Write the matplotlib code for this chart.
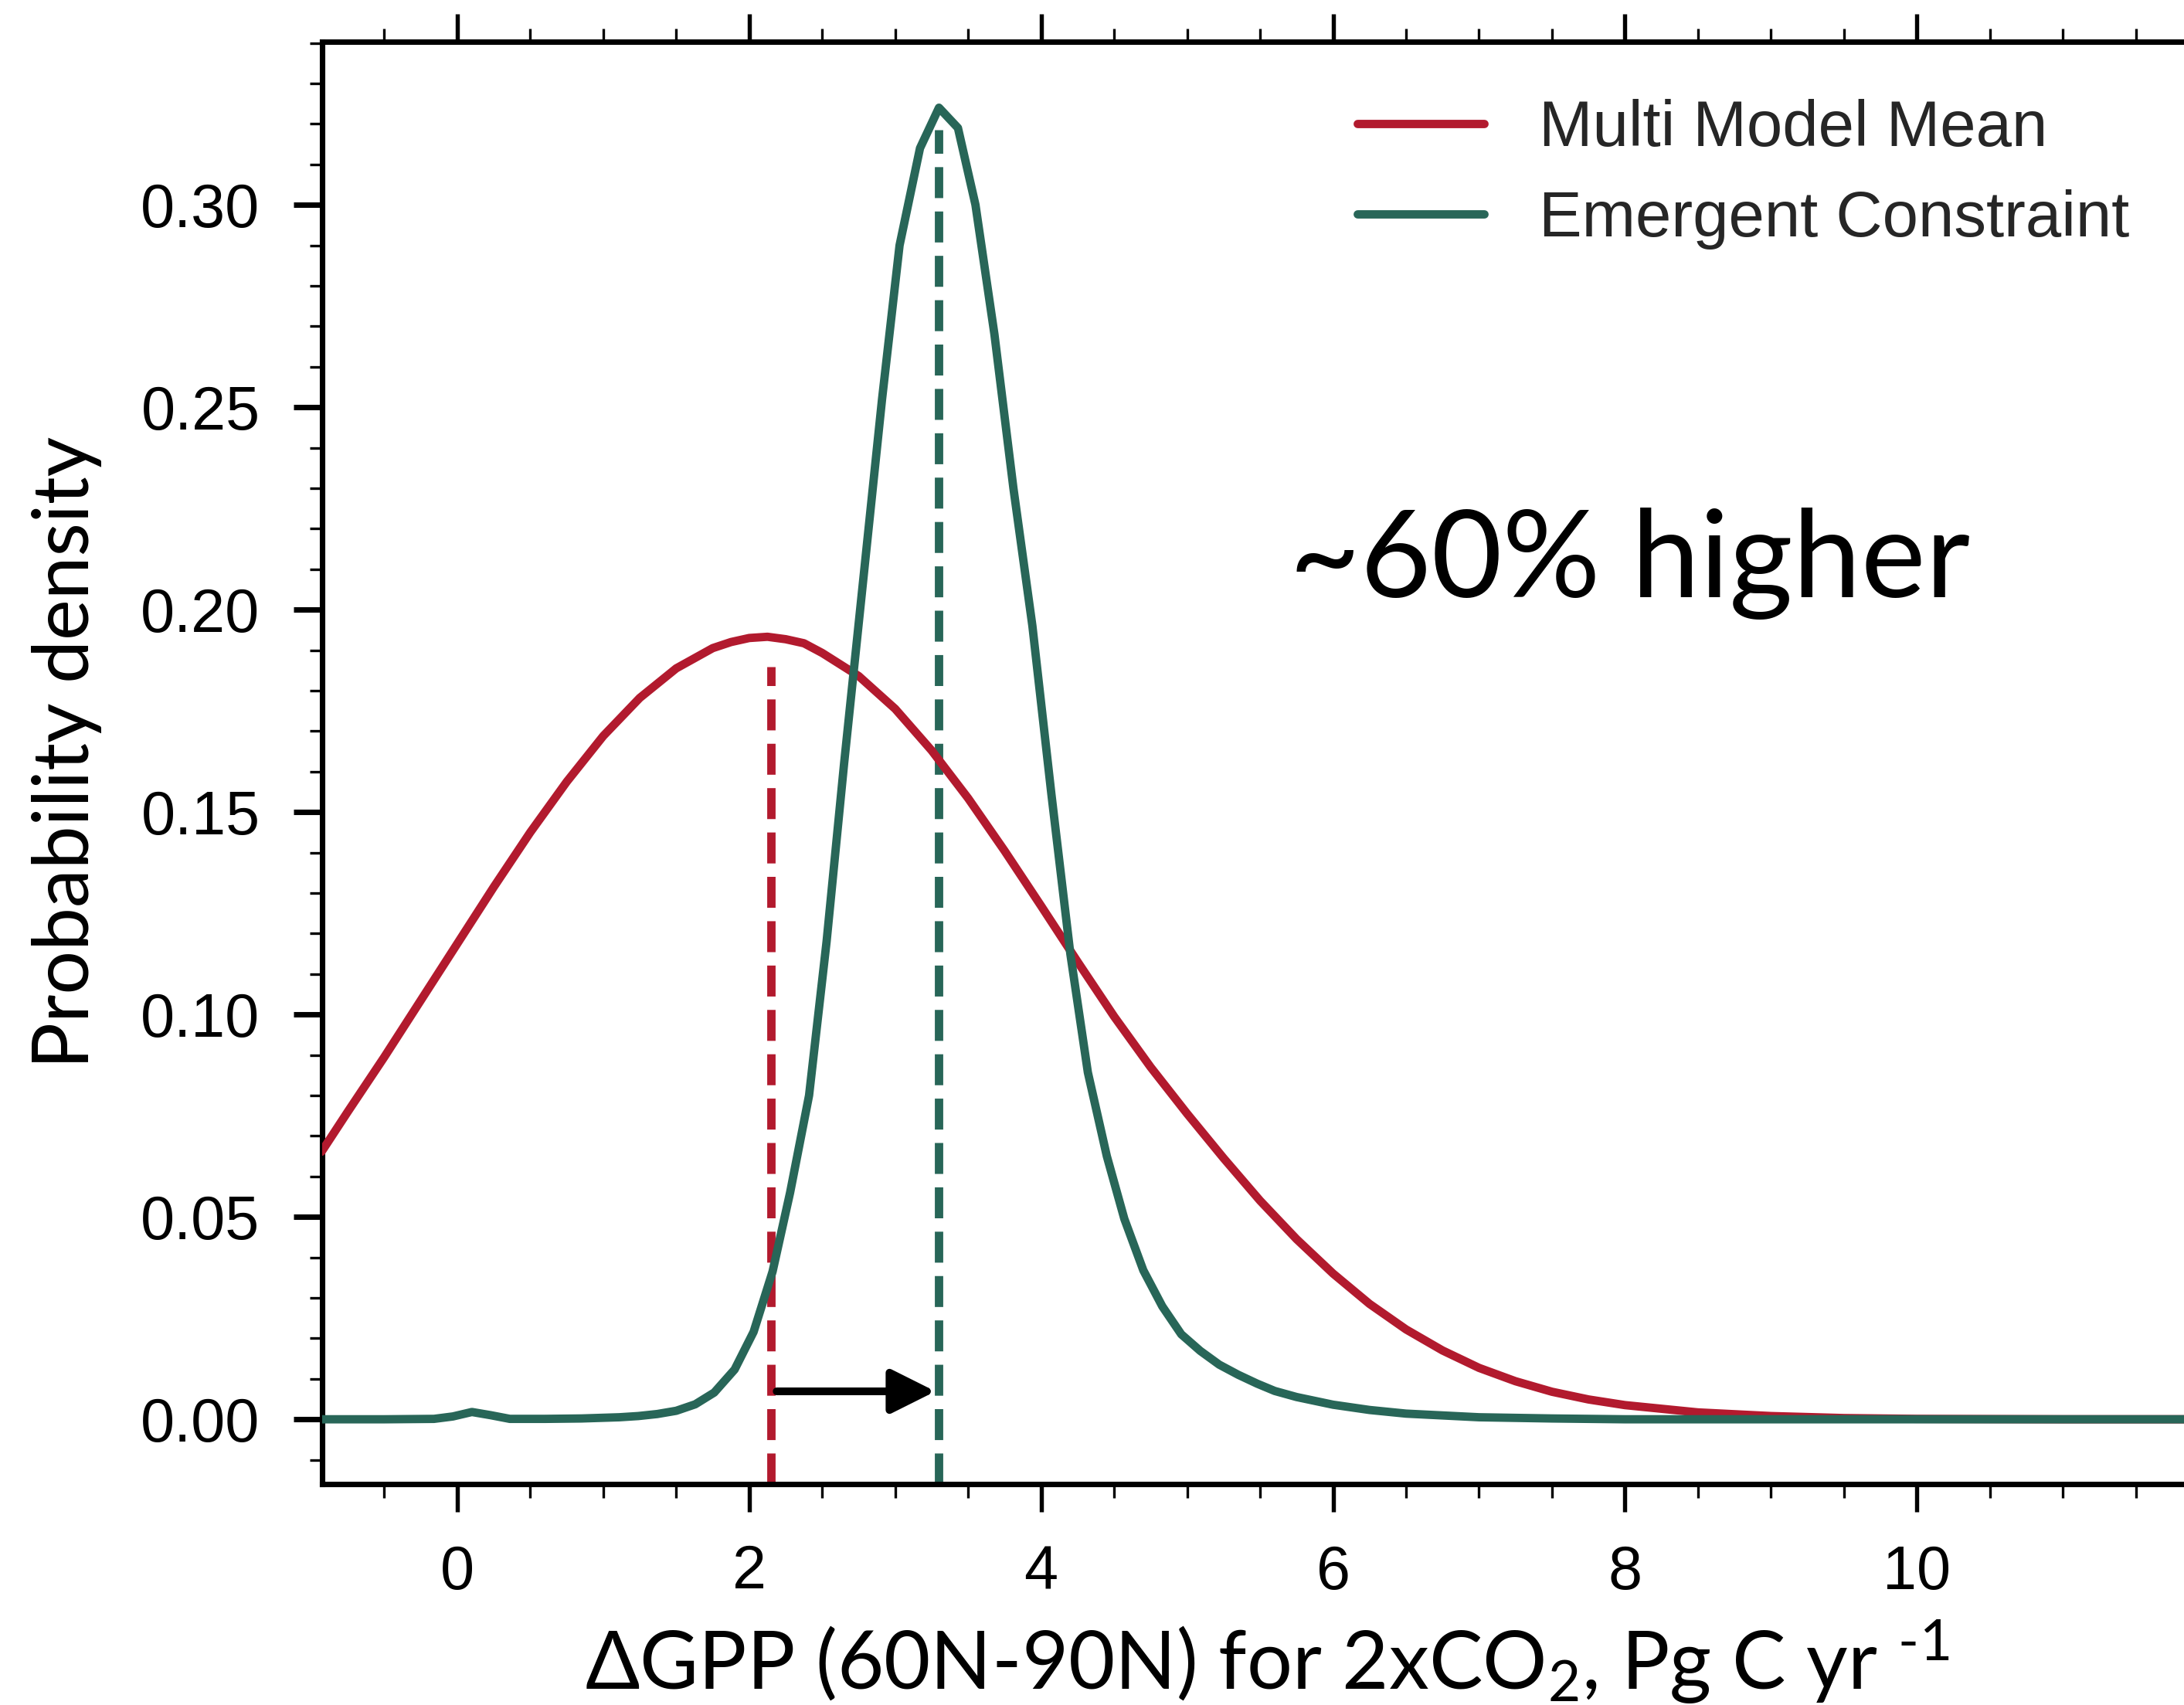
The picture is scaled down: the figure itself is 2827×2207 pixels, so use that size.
import numpy as np
import matplotlib
matplotlib.use("Agg")
import matplotlib.pyplot as plt
from matplotlib.ticker import MultipleLocator, FormatStrFormatter

plt.rcParams['font.family'] = ['Liberation Sans', 'DejaVu Sans']
plt.rcParams['mathtext.fontset'] = 'custom'
plt.rcParams['mathtext.rm'] = 'Lato'
plt.rcParams['mathtext.default'] = 'regular'

RED = "#b21a2e"
GREEN = "#286658"
LABEL_FONT = ['Lato', 'DejaVu Sans']

# multi model mean pdf
x_mmm = [-0.93, -0.75, -0.5, -0.25, 0.0, 0.25, 0.5, 0.75, 1.0, 1.25, 1.5, 1.75,
         1.875, 2.0, 2.125, 2.25, 2.375, 2.5, 2.75, 3.0, 3.25, 3.5, 3.75, 4.0,
         4.25, 4.5, 4.75, 5.0, 5.25, 5.5, 5.75, 6.0, 6.25, 6.5, 6.75, 7.0, 7.25,
         7.5, 7.75, 8.0, 8.5, 9.0, 9.5, 10.0, 11.0, 11.9]
y_mmm = [0.0661, 0.0760, 0.0895, 0.1035, 0.1175, 0.1315, 0.1450, 0.1575, 0.1688,
         0.1782, 0.1855, 0.1905, 0.1920, 0.1930, 0.1933, 0.1927, 0.1917, 0.1893,
         0.1836, 0.1755, 0.1652, 0.1534, 0.1404, 0.1268, 0.1130, 0.0995, 0.0870,
         0.0755, 0.0645, 0.0540, 0.0445, 0.0360, 0.0285, 0.0222, 0.0170, 0.0127,
         0.0094, 0.0068, 0.0049, 0.0035, 0.0017, 0.0008, 0.0003, 0.0001, 0.0, 0.0]

# emergent constraint pdf
x_ec = [-0.93, -0.5, -0.16, -0.03, 0.10, 0.23, 0.36, 0.6, 0.85, 1.11, 1.24, 1.37,
        1.50, 1.63, 1.76, 1.90, 2.03, 2.16, 2.28, 2.41, 2.53, 2.65, 2.78, 2.91,
        3.03, 3.17, 3.30, 3.43, 3.55, 3.68, 3.81, 3.94, 4.07, 4.20, 4.32, 4.45,
        4.57, 4.70, 4.83, 4.96, 5.09, 5.22, 5.35, 5.48, 5.60, 5.75, 6.0, 6.25,
        6.5, 7.0, 7.5, 8.0, 11.9]
y_ec = [0.0, 0.0, 0.0001, 0.0007, 0.0018, 0.0010, 0.0001, 0.0001, 0.0002, 0.0005,
        0.0008, 0.0013, 0.0021, 0.0037, 0.0066, 0.0123, 0.0216, 0.0365, 0.056,
        0.080, 0.118, 0.162, 0.207, 0.252, 0.290, 0.314, 0.324, 0.319, 0.300,
        0.268, 0.230, 0.196, 0.1545, 0.115, 0.0857, 0.065, 0.0495, 0.0368,
        0.0279, 0.021, 0.0169, 0.0135, 0.011, 0.0088, 0.007, 0.0055, 0.0036,
        0.0023, 0.0014, 0.0005, 0.0002, 0.0, 0.0]

# means and where their dashed markers stop
mean_mmm, top_mmm = 2.148, 0.186
mean_ec, top_ec = 3.296, 0.3185
arrow_y = 0.0069

XLIM = (-0.926, 11.83)
YLIM = (-0.016, 0.3403)
LW = 2.6

fig = plt.figure(figsize=(2827 / 300, 2207 / 300), dpi=300)
ax = fig.add_axes([417 / 2827, 1 - 1921 / 2207, (2827 - 417) / 2827, (1921 - 54) / 2207])

ax.plot([mean_mmm, mean_mmm], [YLIM[0], top_mmm], ls='--', lw=LW, color=RED, zorder=2)
ax.plot([mean_ec, mean_ec], [YLIM[0], top_ec], ls='--', lw=LW, color=GREEN, zorder=2)
ax.plot(x_mmm, y_mmm, lw=LW, color=RED, solid_capstyle='round', label='Multi Model Mean', zorder=3)
ax.plot(x_ec, y_ec, lw=LW, color=GREEN, solid_capstyle='round', label='Emergent Constraint', zorder=4)

ax.annotate('', xy=(mean_ec - 0.02, arrow_y), xytext=(mean_mmm + 0.04, arrow_y),
            arrowprops=dict(arrowstyle='-|>,head_length=0.4,head_width=0.2', lw=2.4,
                            color='k', mutation_scale=29, shrinkA=0, shrinkB=0),
            zorder=5)

ax.set_xlim(*XLIM)
ax.set_ylim(*YLIM)

ax.xaxis.set_major_locator(MultipleLocator(2))
ax.xaxis.set_minor_locator(MultipleLocator(0.5))
ax.yaxis.set_major_locator(MultipleLocator(0.05))
ax.yaxis.set_minor_locator(MultipleLocator(0.01))
ax.yaxis.set_major_formatter(FormatStrFormatter('%.2f'))

ax.spines['right'].set_visible(False)
for s in ['left', 'bottom', 'top']:
    ax.spines[s].set_linewidth(1.7)

ax.tick_params(axis='x', which='major', direction='out', length=8.6, width=1.3,
               top=True, bottom=True, labelsize=19, pad=10)
ax.tick_params(axis='x', which='minor', direction='out', length=4.2, width=0.8,
               top=True, bottom=True)
ax.tick_params(axis='y', which='major', direction='out', length=8.8, width=1.7,
               right=False, labelsize=19, pad=10.5)
ax.tick_params(axis='y', which='minor', direction='out', length=3.8, width=0.8, right=False)

fig.text(1640 / 2827, 1 - 2187 / 2207,
         r'ΔGPP (60N-90N) for 2xCO$_2$, Pg C yr $^{\text{-}1}$',
         family=LABEL_FONT, fontsize=25, ha='center', va='baseline')
fig.text(115 / 2827, 1 - 974 / 2207, 'Probability density',
         family=LABEL_FONT, fontsize=24, rotation=90, rotation_mode='anchor',
         ha='center', va='baseline')

ax.text(5.70, 0.203, '~60% higher', family=LABEL_FONT, fontsize=38,
        ha='left', va='baseline')

ax.legend(loc='upper left', bbox_to_anchor=(1757 / 2827, 1 - 128 / 2207),
          bbox_transform=fig.transFigure, frameon=False, fontsize=20,
          handlelength=1.97, handletextpad=0.85, labelspacing=0.47,
          borderpad=0, borderaxespad=0, labelcolor='#262626')

fig.savefig('out.png', dpi=300, facecolor='white')
